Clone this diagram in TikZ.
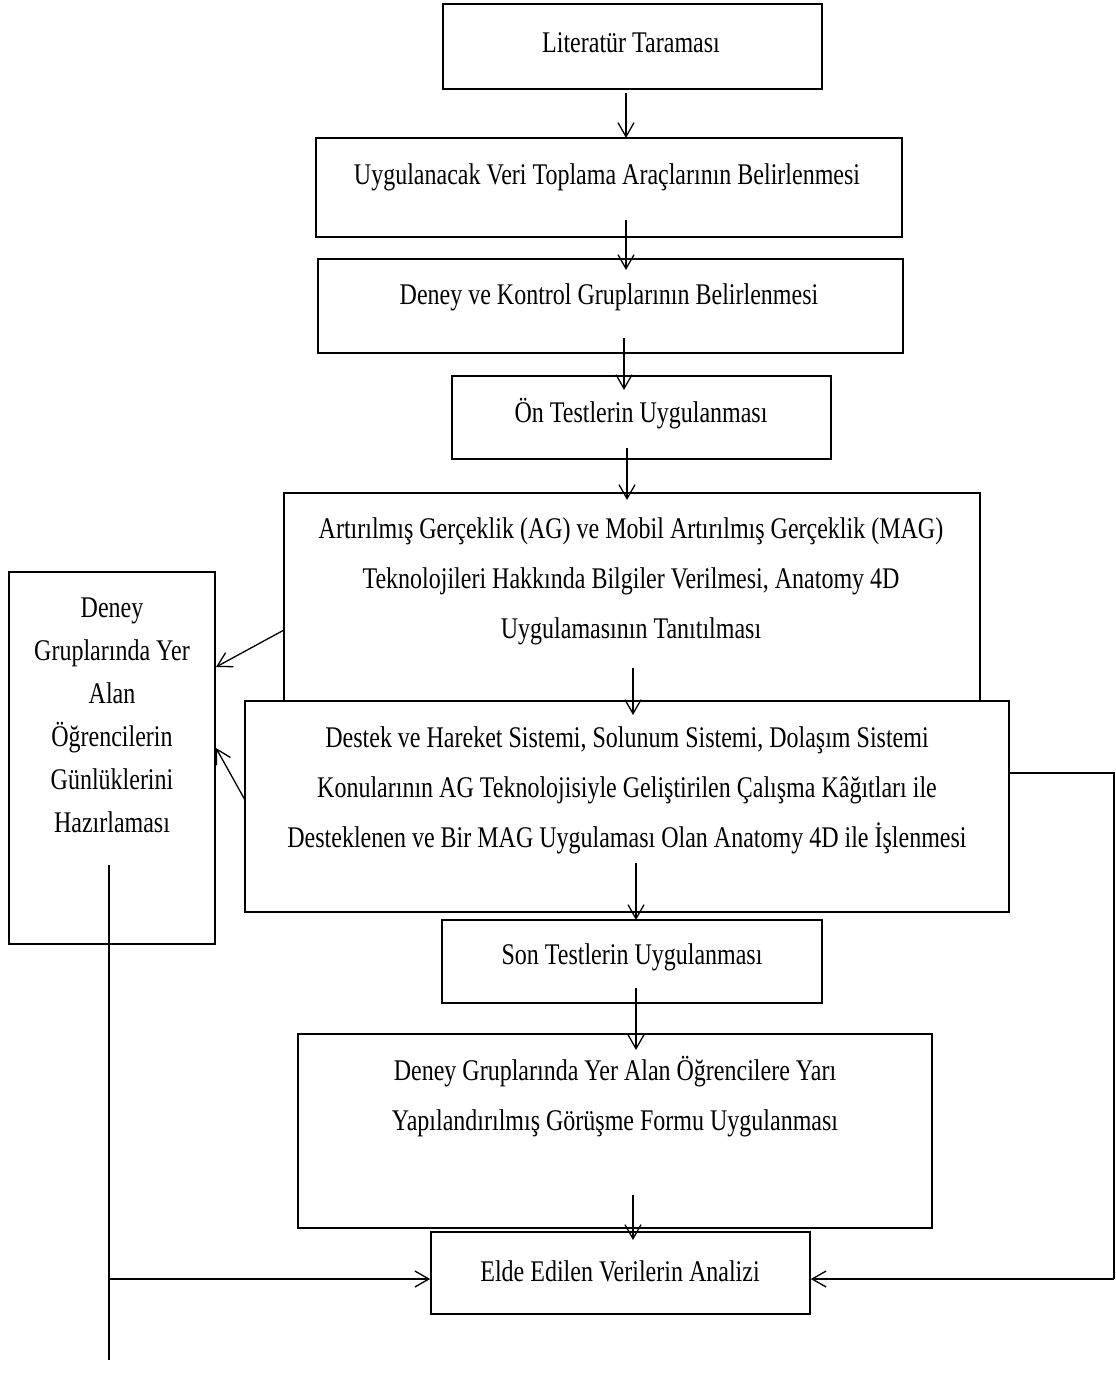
\documentclass[tikz,border=0pt]{standalone}
\usepackage{fontspec}
\setmainfont[FakeStretch=0.8]{Liberation Serif}
\usetikzlibrary{arrows.meta}
\tikzset{
  box/.style={draw=black, line width=1.6pt, fill=white, rectangle, inner sep=0pt},
  txt/.style={align=center, inner sep=0pt, font=\fontsize{30}{50}\selectfont},
  ltxt/.style={align=center, inner sep=0pt, font=\fontsize{30}{43}\selectfont},
  arr/.style={line width=1.3pt, -{Straight Barb[length=14pt,width=16pt,line width=1.3pt]}},
  ln/.style={line width=1.3pt}
}
\begin{document}
\begin{tikzpicture}[x=1pt,y=-1pt]
\useasboundingbox (0,0) rectangle (1116,1389);
% boxes
\node[box, minimum width=379pt, minimum height=85pt] (b1) at (632.5,46.5) {};
\node[box, minimum width=586pt, minimum height=99pt] (b2) at (609,187.5) {};
\node[box, minimum width=585pt, minimum height=94pt] (b3) at (610.5,306) {};
\node[box, minimum width=379pt, minimum height=83pt] (b4) at (641.5,417.5) {};
\node[box, minimum width=696pt, minimum height=208pt] (b5) at (632,597) {};
\node[box, minimum width=764pt, minimum height=211pt] (b6) at (627,806.5) {};
\node[box, minimum width=380pt, minimum height=83pt] (b7) at (632,961.5) {};
\node[box, minimum width=634pt, minimum height=194pt] (b8) at (615,1131) {};
\node[box, minimum width=379pt, minimum height=82pt] (b9) at (620.5,1273) {};
\node[box, minimum width=206pt, minimum height=372pt] (bl) at (112,758) {};
% texts
\node[txt] (t1) at (631,43) {Literatür Taraması};
\node[txt] (t2) at (607,177) {Uygulanacak Veri Toplama Araçlarının Belirlenmesi};
\node[txt] (t3) at (609,297) {Deney ve Kontrol Gruplarının Belirlenmesi};
\node[txt] (t4) at (641,414) {Ön Testlerin Uygulanması};
\node[txt] (t5) at (631,581) {Artırılmış Gerçeklik (AG) ve Mobil Artırılmış Gerçeklik (MAG)\\Teknolojileri Hakkında Bilgiler Verilmesi, Anatomy 4D\\Uygulamasının Tanıtılması};
\node[txt] (t6) at (627,790) {Destek ve Hareket Sistemi, Solunum Sistemi, Dolaşım Sistemi\\Konularının AG Teknolojisiyle Geliştirilen Çalışma Kâğıtları ile\\Desteklenen ve Bir MAG Uygulaması Olan Anatomy 4D ile İşlenmesi};
\node[txt] (t7) at (632,957) {Son Testlerin Uygulanması};
\node[txt] (t8) at (615,1097) {Deney Gruplarında Yer Alan Öğrencilere Yarı\\Yapılandırılmış Görüşme Formu Uygulanması};
\node[txt] (t9) at (620,1271) {Elde Edilen Verilerin Analizi};
\node[ltxt] (tl) at (112,715) {Deney\\Gruplarında Yer\\Alan\\Öğrencilerin\\Günlüklerini\\Hazırlaması};
% arrow end points
\coordinate (a1s) at (626,93);   \coordinate (a1e) at (626,138);
\coordinate (a2s) at (626,220);  \coordinate (a2e) at (626,270);
\coordinate (a3s) at (624,338);  \coordinate (a3e) at (624,390);
\coordinate (a4s) at (627,448);  \coordinate (a4e) at (627,500);
\coordinate (a5s) at (633,668);  \coordinate (a5e) at (633,715);
\coordinate (a6s) at (636,863);  \coordinate (a6e) at (636,920);
\coordinate (a7s) at (636,988);  \coordinate (a7e) at (636,1050);
\coordinate (a8s) at (633,1195); \coordinate (a8e) at (633,1240);
\draw[arr] (a1s) -- (a1e);
\draw[arr] (a2s) -- (a2e);
\draw[arr] (a3s) -- (a3e);
\draw[arr] (a4s) -- (a4e);
\draw[arr] (a5s) -- (a5e);
\draw[arr] (a6s) -- (a6e);
\draw[arr] (a7s) -- (a7e);
\draw[arr] (a8s) -- (a8e);
% side arrows to left box
\coordinate (l1s) at (284,630); \coordinate (l1e) at (216,667);
\coordinate (l2s) at (245,800); \coordinate (l2e) at (216,748);
\draw[arr] (l1s) -- (l1e);
\draw[arr] (l2s) -- (l2e);
% left bottom line
\coordinate (lt) at (109,865); \coordinate (lb) at (109,1360);
\coordinate (lj) at (109,1279);
\draw[ln] (lt) -- (lb);
\draw[arr] (lj) -- (b9.west |- lj);
% right line
\coordinate (r1) at (1114,773); \coordinate (r2) at (1114,1279);
\draw[ln] (b6.east |- r1) -- (r1) -- (r2);
\draw[arr] (r2) -- (b9.east |- r2);
\end{tikzpicture}
\end{document}
